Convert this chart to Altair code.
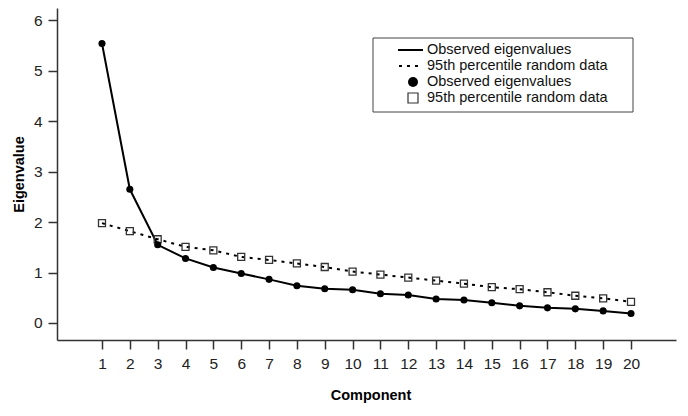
import altair as alt
import pandas as pd

components = list(range(1, 21))
observed = [5.54, 2.65, 1.55, 1.28, 1.10, 0.98, 0.865, 0.74, 0.68, 0.66,
            0.58, 0.555, 0.475, 0.455, 0.40, 0.34, 0.30, 0.28, 0.24, 0.19]
random95 = [1.98, 1.82, 1.66, 1.51, 1.44, 1.31, 1.25, 1.18, 1.11, 1.02,
            0.96, 0.90, 0.84, 0.78, 0.71, 0.67, 0.61, 0.54, 0.49, 0.42]
y_ticks = [0, 1, 2, 3, 4, 5, 6]
legend_labels = ["Observed eigenvalues", "95th percentile random data",
                 "Observed eigenvalues", "95th percentile random data"]

df = pd.DataFrame({"component": components, "observed": observed, "random": random95})

FONT = "Liberation Sans"
W, H = 619, 332

xscale = alt.Scale(domain=[-0.616, 21.616], nice=False, zero=False)
yscale = alt.Scale(domain=[-0.337, 6.244], nice=False, zero=False)

xax = alt.Axis(title="Component", values=components, grid=False, tickSize=9,
               labelPadding=7, labelAngle=0, labelOverlap=False, labelFlush=False,
               labelBound=False, labelSeparation=0,
               titleX=W / 2 + 4, titleY=55, titleBaseline="middle")
yax = alt.Axis(title="Eigenvalue", values=y_ticks, grid=False, tickSize=9,
               labelPadding=6, labelOverlap=False, labelFlush=False,
               titleX=-38, titleY=H / 2, titleBaseline="middle", titleAngle=-90)

X = alt.X("component:Q", scale=xscale, axis=xax)
Y_obs = alt.Y("observed:Q", scale=yscale, axis=yax)
Y_rand = alt.Y("random:Q", scale=yscale, axis=yax)

base = alt.Chart(df)

line_obs = base.mark_line(color="black", strokeWidth=2).encode(x=X, y=Y_obs)
line_rand = base.mark_line(color="black", strokeWidth=2, strokeDash=[3, 5]).encode(x=X, y=Y_rand)
pts_obs = base.mark_point(shape="circle", filled=True, color="black", size=50,
                          opacity=1).encode(x=X, y=Y_obs)
pts_rand = base.mark_point(shape="square", filled=False, color="#333", size=49,
                           strokeWidth=1.3, opacity=1).encode(x=X, y=Y_rand)

one = alt.Data(values=[{"a": 1}])
lx0, lx1, sx, tx = 341, 366, 356, 370
rows = [42, 58, 74, 90]

leg_box = alt.Chart(one).mark_rect(fill="white", stroke="#444", strokeWidth=1).encode(
    x=alt.value(316), x2=alt.value(576), y=alt.value(30), y2=alt.value(104))
leg_l1 = alt.Chart(one).mark_rule(color="black", strokeWidth=2).encode(
    x=alt.value(lx0), x2=alt.value(lx1), y=alt.value(rows[0]))
leg_l2 = alt.Chart(one).mark_rule(color="black", strokeWidth=2, strokeDash=[3, 5]).encode(
    x=alt.value(lx0 + 1), x2=alt.value(lx1), y=alt.value(rows[1]))
leg_p1 = alt.Chart(one).mark_point(shape="circle", filled=True, color="black", size=100, opacity=1).encode(
    x=alt.value(sx), y=alt.value(rows[2]))
leg_p2 = alt.Chart(one).mark_point(shape="square", filled=False, color="#333", size=100,
                                   strokeWidth=1.2, opacity=1).encode(
    x=alt.value(sx), y=alt.value(rows[3]))
leg_texts = [
    alt.Chart(one).mark_text(align="left", baseline="middle", font=FONT, fontSize=14.5,
                             color="#111").encode(
        x=alt.value(tx), y=alt.value(r), text=alt.value(lab))
    for r, lab in zip(rows, legend_labels)
]

chart = alt.layer(line_rand, line_obs, pts_rand, pts_obs, leg_box, leg_l1, leg_l2,
                  leg_p1, leg_p2, *leg_texts).properties(
    width=W, height=H,
    autosize=alt.AutoSizeParams(type="none"),
    padding={"left": 49, "top": 0, "right": 4, "bottom": 70},
).configure_view(stroke=None).configure_axis(
    domainColor="#333", tickColor="#333", labelColor="#222", labelFont=FONT,
    labelFontSize=15.5, titleFont=FONT, titleFontSize=14.5, titleFontWeight="bold",
    titleColor="black", domainWidth=1.5, tickWidth=1.5, labelOverlap=False,
)

chart.save("out.html", embed_options={"renderer": "svg", "actions": False})
